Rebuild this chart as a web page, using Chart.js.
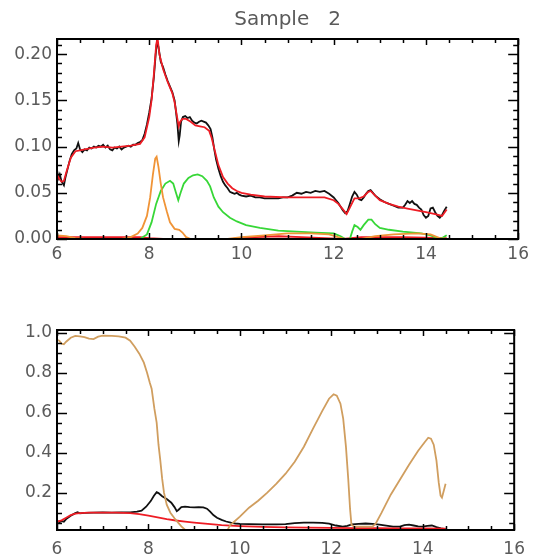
<!DOCTYPE html>
<html>
<head>
<meta charset="utf-8">
<script src="https://cdn.jsdelivr.net/npm/chart.js@4.4.0/dist/chart.umd.min.js"></script>
<style>
  html, body { margin: 0; padding: 0; background: #fff; }
  canvas { position: absolute; left: 0; }
  #topChart { top: 0; }
  #botChart { top: 280px; }
</style>
</head>
<body>
<canvas id="topChart" width="534" height="280"></canvas>
<canvas id="botChart" width="534" height="275"></canvas>
<script>
// MARK: data, [wavelength, value]

var titleText = 'Sample   2';
var xTicks = [6, 8, 10, 12, 14, 16];
var topYTicks = [0.00, 0.05, 0.10, 0.15, 0.20];
var botYTicks = [0.2, 0.4, 0.6, 0.8, 1.0];

// upper panel
var topObserved = [
  [6.00,0.075],[6.03,0.066],[6.06,0.070],[6.10,0.062],[6.15,0.058],[6.18,0.066],[6.22,0.074],
  [6.27,0.084],[6.32,0.092],[6.37,0.096],[6.42,0.098],[6.46,0.104],[6.50,0.097],[6.55,0.094],
  [6.60,0.097],[6.65,0.096],[6.70,0.099],[6.75,0.098],[6.80,0.100],[6.85,0.099],[6.90,0.101],
  [6.95,0.100],[7.00,0.102],[7.05,0.099],[7.10,0.101],[7.15,0.097],[7.20,0.096],[7.25,0.099],
  [7.30,0.098],[7.35,0.100],[7.40,0.097],[7.45,0.099],[7.50,0.100],[7.55,0.101],[7.60,0.100],
  [7.65,0.102],[7.70,0.102],[7.75,0.104],[7.80,0.105],[7.85,0.107],[7.90,0.114],[7.95,0.124],
  [8.00,0.137],[8.05,0.152],[8.10,0.175],[8.14,0.200],[8.17,0.214],[8.20,0.208],[8.25,0.192],
  [8.30,0.186],[8.35,0.178],[8.40,0.171],[8.45,0.165],[8.50,0.159],[8.55,0.150],[8.58,0.138],
  [8.61,0.125],[8.64,0.106],[8.66,0.112],[8.69,0.127],[8.73,0.132],[8.78,0.133],[8.83,0.131],
  [8.88,0.132],[8.93,0.128],[8.98,0.126],[9.03,0.125],[9.08,0.127],[9.13,0.128],[9.18,0.127],
  [9.23,0.126],[9.28,0.123],[9.33,0.119],[9.37,0.110],[9.41,0.097],[9.45,0.086],[9.50,0.076],
  [9.55,0.068],[9.60,0.062],[9.65,0.058],[9.70,0.055],[9.75,0.051],[9.80,0.050],[9.85,0.049],
  [9.90,0.050],[9.95,0.048],[10.0,0.047],[10.1,0.046],[10.2,0.047],[10.3,0.045],[10.4,0.045],
  [10.5,0.044],[10.6,0.044],[10.7,0.044],[10.8,0.044],[10.9,0.045],[11.0,0.045],[11.1,0.047],
  [11.2,0.050],[11.3,0.049],[11.4,0.051],[11.5,0.050],[11.6,0.052],[11.7,0.051],[11.8,0.052],
  [11.9,0.049],[12.0,0.045],[12.05,0.042],[12.1,0.039],[12.15,0.035],[12.2,0.031],[12.25,0.028],
  [12.3,0.030],[12.35,0.038],[12.4,0.046],[12.45,0.051],[12.5,0.048],[12.55,0.043],[12.6,0.042],
  [12.65,0.045],[12.7,0.049],[12.75,0.052],[12.8,0.053],[12.85,0.050],[12.9,0.047],[12.95,0.045],
  [13.0,0.043],[13.1,0.040],[13.2,0.038],[13.3,0.036],[13.4,0.034],[13.5,0.034],[13.55,0.037],
  [13.6,0.041],[13.65,0.039],[13.7,0.041],[13.75,0.038],[13.8,0.037],[13.85,0.034],[13.9,0.032],
  [13.95,0.026],[14.0,0.023],[14.05,0.025],[14.1,0.033],[14.15,0.034],[14.2,0.029],[14.25,0.025],
  [14.3,0.023],[14.35,0.026],[14.4,0.031],[14.45,0.035]
];
var topModel = [
  [6.00,0.070],[6.05,0.065],[6.10,0.062],[6.15,0.063],[6.20,0.072],[6.30,0.088],[6.40,0.095],
  [6.50,0.096],[6.60,0.097],[6.80,0.099],[7.00,0.100],[7.20,0.099],[7.40,0.100],[7.60,0.101],
  [7.80,0.103],[7.90,0.110],[8.00,0.132],[8.05,0.150],[8.10,0.178],[8.15,0.210],[8.18,0.218],
  [8.22,0.200],[8.30,0.184],[8.40,0.170],[8.50,0.158],[8.55,0.148],[8.60,0.133],[8.64,0.122],
  [8.67,0.127],[8.72,0.130],[8.80,0.130],[8.90,0.127],[9.00,0.123],[9.10,0.122],[9.20,0.121],
  [9.30,0.117],[9.35,0.110],[9.40,0.100],[9.45,0.090],[9.50,0.080],[9.60,0.067],[9.70,0.060],
  [9.80,0.055],[9.90,0.052],[10.0,0.050],[10.2,0.048],[10.5,0.046],[11.0,0.045],[11.5,0.045],
  [11.8,0.045],[12.0,0.042],[12.1,0.038],[12.2,0.032],[12.28,0.027],[12.35,0.034],[12.45,0.044],
  [12.55,0.044],[12.65,0.046],[12.75,0.051],[12.8,0.052],[12.9,0.047],[13.0,0.042],[13.2,0.038],
  [13.4,0.035],[13.6,0.033],[13.8,0.031],[14.0,0.029],[14.2,0.027],[14.35,0.025],[14.45,0.032]
];
var topGreen = [
  [7.80,0.000],[7.95,0.005],[8.05,0.018],[8.15,0.038],[8.25,0.052],[8.35,0.060],[8.45,0.063],
  [8.52,0.060],[8.58,0.050],[8.63,0.042],[8.68,0.050],[8.75,0.060],[8.85,0.066],[8.95,0.069],
  [9.05,0.070],[9.15,0.068],[9.25,0.063],[9.32,0.057],[9.40,0.045],[9.50,0.035],[9.60,0.029],
  [9.75,0.023],[9.90,0.019],[10.1,0.015],[10.4,0.012],[10.8,0.009],[11.2,0.008],[11.6,0.007],
  [12.0,0.006],[12.15,0.003],[12.25,0.000],[12.35,0.000],[12.40,0.008],[12.45,0.015],[12.52,0.013],
  [12.58,0.010],[12.65,0.015],[12.75,0.021],[12.82,0.021],[12.90,0.016],[13.0,0.012],[13.2,0.010],
  [13.5,0.008],[13.9,0.006],[14.1,0.004],[14.25,0.001],[14.35,0.001],[14.45,0.004]
];
var topOrange = [
  [6.00,0.004],[6.20,0.003],[6.40,0.001],[6.60,0.000],[7.40,0.000],[7.60,0.002],[7.75,0.006],
  [7.85,0.012],[7.95,0.025],[8.02,0.045],[8.08,0.070],[8.13,0.087],[8.16,0.089],[8.20,0.078],
  [8.25,0.060],[8.30,0.045],[8.38,0.030],[8.45,0.018],[8.55,0.011],[8.65,0.010],[8.72,0.007],
  [8.80,0.002],[8.90,0.000],[9.70,0.000],[10.0,0.002],[10.5,0.004],[11.0,0.006],[11.5,0.006],
  [11.9,0.005],[12.1,0.002],[12.25,0.000],[12.6,0.000],[12.9,0.003],[13.3,0.005],[13.8,0.006],
  [14.1,0.005],[14.3,0.001],[14.45,0.000]
];
var topRedLow = [
  [6.00,0.002],[7.80,0.002],[8.00,0.001],[8.30,0.000],[9.80,0.000],[10.3,0.002],[10.8,0.003],
  [11.3,0.002],[11.8,0.001],[12.2,0.000],[12.6,0.002],[13.5,0.002],[14.45,0.001]
];
var topMagenta = [[6.00,0.000],[14.5,0.000]];

// lower panel
var botObserved = [
  [6.00,0.060],[6.05,0.052],[6.10,0.058],[6.15,0.055],[6.20,0.068],[6.30,0.085],[6.40,0.098],
  [6.45,0.102],[6.50,0.097],[6.60,0.099],[6.80,0.100],[7.00,0.101],[7.20,0.100],[7.40,0.101],
  [7.60,0.102],[7.75,0.105],[7.85,0.110],[7.95,0.130],[8.05,0.158],[8.12,0.185],[8.18,0.203],
  [8.22,0.198],[8.30,0.182],[8.40,0.168],[8.50,0.150],[8.57,0.128],[8.62,0.108],[8.66,0.115],
  [8.72,0.128],[8.80,0.130],[8.90,0.128],[9.00,0.127],[9.10,0.128],[9.20,0.127],[9.28,0.120],
  [9.35,0.105],[9.42,0.088],[9.50,0.075],[9.60,0.064],[9.70,0.056],[9.80,0.050],[9.90,0.046],
  [10.0,0.044],[10.2,0.043],[10.5,0.042],[10.8,0.042],[11.0,0.043],[11.2,0.048],[11.4,0.050],
  [11.6,0.050],[11.8,0.049],[11.95,0.045],[12.1,0.036],[12.25,0.030],[12.35,0.034],[12.45,0.042],
  [12.6,0.044],[12.75,0.046],[12.9,0.044],[13.05,0.040],[13.2,0.035],[13.35,0.030],[13.5,0.030],
  [13.6,0.038],[13.7,0.040],[13.8,0.036],[13.9,0.032],[14.0,0.030],[14.1,0.034],[14.2,0.036],
  [14.3,0.028],[14.4,0.022],[14.5,0.018]
];
var botModel = [
  [6.00,0.055],[6.10,0.062],[6.20,0.075],[6.30,0.088],[6.40,0.095],[6.50,0.098],[6.70,0.100],
  [7.00,0.100],[7.30,0.100],[7.60,0.098],[7.80,0.093],[8.00,0.085],[8.20,0.077],[8.40,0.068],
  [8.60,0.061],[8.80,0.055],[9.00,0.050],[9.30,0.044],[9.60,0.038],[10.0,0.033],[10.5,0.029],
  [11.0,0.027],[11.5,0.025],[12.0,0.024],[12.5,0.023],[13.0,0.023],[13.5,0.022],[14.0,0.021],
  [14.5,0.020]
];
var botTan = [
  [6.00,0.965],[6.05,0.960],[6.10,0.945],[6.15,0.942],[6.20,0.955],[6.30,0.975],[6.40,0.984],
  [6.50,0.982],[6.60,0.978],[6.70,0.970],[6.80,0.968],[6.90,0.980],[7.00,0.985],[7.20,0.984],
  [7.35,0.982],[7.50,0.975],[7.60,0.960],[7.70,0.930],[7.80,0.895],[7.90,0.850],[7.97,0.800],
  [8.03,0.750],[8.07,0.720],[8.13,0.620],[8.18,0.550],[8.22,0.440],[8.26,0.360],[8.30,0.270],
  [8.34,0.200],[8.40,0.140],[8.48,0.100],[8.57,0.072],[8.65,0.050],[8.72,0.032],[8.80,0.015],
  [8.90,0.000],[9.70,0.000],[9.78,0.035],[9.85,0.050],[10.0,0.080],[10.2,0.125],[10.4,0.160],
  [10.6,0.200],[10.8,0.245],[11.0,0.295],[11.2,0.355],[11.4,0.430],[11.6,0.520],[11.8,0.608],
  [11.95,0.670],[12.05,0.692],[12.12,0.685],[12.2,0.645],[12.26,0.570],[12.32,0.430],[12.37,0.270],
  [12.41,0.120],[12.44,0.040],[12.5,0.030],[12.7,0.030],[12.9,0.030],[12.97,0.045],[13.1,0.100],
  [13.3,0.190],[13.5,0.265],[13.7,0.340],[13.9,0.410],[14.05,0.455],[14.12,0.475],[14.18,0.470],
  [14.24,0.440],[14.3,0.360],[14.35,0.250],[14.39,0.185],[14.42,0.175],[14.46,0.210],[14.5,0.245]
];

// MARK: helpers

Chart.defaults.font.family = "'DejaVu Sans', sans-serif";
Chart.defaults.color = '#5a5a5a';

function toXY(pts) {
  return pts.map(function (p) { return {x: p[0], y: p[1]}; });
}

function line(pts, color, width) {
  return {
    data: toXY(pts),
    borderColor: color,
    borderWidth: width || 1.8,
    pointRadius: 0,
    tension: 0
  };
}

// IDL style box: frame plus inward major/minor ticks on all four sides
function idlAxes(xMinor, xEvery, yMinor, yEvery) {
  return {
    id: 'idlAxes',
    afterDraw: function (chart) {
      var ctx = chart.ctx, a = chart.chartArea;
      var xs = chart.scales.x, ys = chart.scales.y;
      var segs = [];
      var nx = Math.round((xs.max - xs.min) / xMinor);
      for (var i = 0; i <= nx; i++) {
        var px = Math.round(xs.getPixelForValue(xs.min + i * xMinor)) + 0.5;
        var lx = (i % xEvery === 0) ? 6 : 4;
        segs.push([px, a.bottom, px, a.bottom - lx]);
        segs.push([px, a.top, px, a.top + lx]);
      }
      var k0 = Math.ceil(ys.min / yMinor - 1e-6);
      var k1 = Math.floor(ys.max / yMinor + 1e-6);
      for (var k = k0; k <= k1; k++) {
        var py = Math.round(ys.getPixelForValue(k * yMinor)) + 0.5;
        var ly = (k % yEvery === 0) ? 10 : 5;
        segs.push([a.left, py, a.left + ly, py]);
        segs.push([a.right, py, a.right - ly, py]);
      }
      ctx.save();
      ctx.strokeStyle = '#000';
      ctx.lineWidth = 1.5;
      segs.forEach(function (s) {
        ctx.beginPath();
        ctx.moveTo(s[0], s[1]);
        ctx.lineTo(s[2], s[3]);
        ctx.stroke();
      });
      ctx.lineWidth = 2;
      ctx.strokeRect(a.left, a.top, a.right - a.left, a.bottom - a.top);
      ctx.restore();
    }
  };
}

function scales(yMin, yMax, yTickList, decimals, xHeight, xPad) {
  return {
    x: {
      type: 'linear', min: 6, max: 16,
      grid: {display: false, drawTicks: false},
      border: {display: false},
      afterBuildTicks: function (s) { s.ticks = xTicks.map(function (v) { return {value: v}; }); },
      ticks: {padding: xPad, maxRotation: 0, autoSkip: false, font: {size: 17}},
      afterFit: function (s) { s.height = xHeight; }
    },
    y: {
      min: yMin, max: yMax,
      grid: {display: false, drawTicks: false},
      border: {display: false},
      afterBuildTicks: function (s) { s.ticks = yTickList.map(function (v) { return {value: v}; }); },
      ticks: {
        padding: 5, font: {size: 17},
        callback: function (v) { return Number(v).toFixed(decimals); }
      },
      afterFit: function (s) { s.width = 57; }
    }
  };
}

// MARK: upper panel
new Chart(document.getElementById('topChart'), {
  type: 'line',
  data: {
    datasets: [
      line(topOrange, 'rgb(240,148,55)'),
      line(topGreen, 'rgb(55,215,55)'),
      line(topModel, 'rgb(238,28,36)'),
      line(topObserved, '#111'),
      line(topRedLow, 'rgb(238,28,36)'),
      line(topMagenta, 'rgb(220,60,220)', 2)
    ]
  },
  options: {
    responsive: false,
    animation: false,
    layout: {padding: {top: 0, right: 7, left: 0, bottom: 0}},
    scales: scales(0, 0.2165, topYTicks, 2, 41, 5),
    plugins: {
      legend: {display: false},
      tooltip: {enabled: false},
      title: {
        display: true, text: titleText, fullSize: false,
        font: {size: 20, weight: 'normal'}, color: '#5a5a5a',
        padding: {top: 8, bottom: 7}
      }
    }
  },
  plugins: [idlAxes(0.5, 4, 0.01, 5)]
});

// MARK: lower panel
new Chart(document.getElementById('botChart'), {
  type: 'line',
  data: {
    datasets: [
      line(botTan, 'rgb(208,158,95)'),
      line(botModel, 'rgb(238,28,36)'),
      line(botObserved, '#111')
    ]
  },
  options: {
    responsive: false,
    animation: false,
    layout: {padding: {top: 50, right: 7, left: 0, bottom: 0}},
    scales: scales(0.0135, 1.0135, botYTicks, 1, 25, 9),
    plugins: {
      legend: {display: false},
      tooltip: {enabled: false}
    }
  },
  plugins: [idlAxes(0.5, 4, 0.05, 4)]
});
</script>
</body>
</html>
